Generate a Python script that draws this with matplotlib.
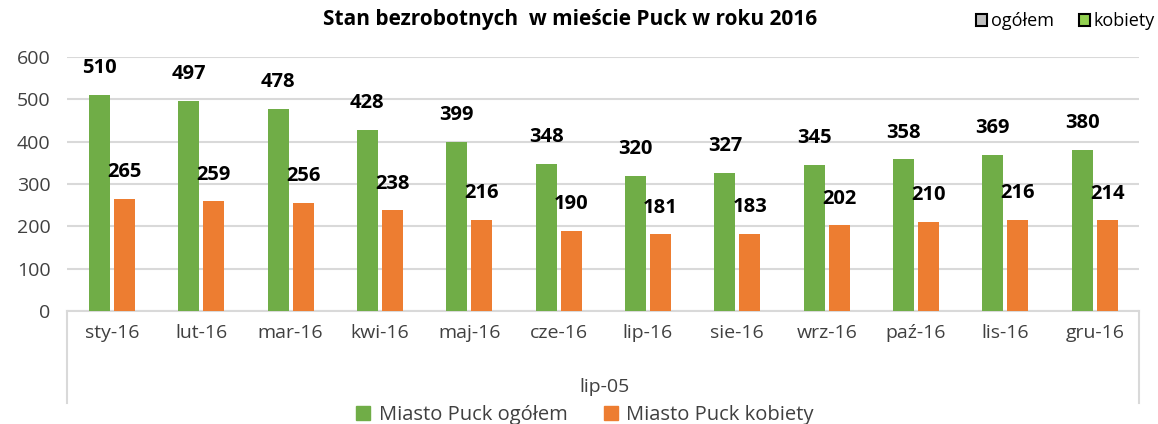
"""Stan bezrobotnych w mieście Puck w roku 2016 - grouped bar chart."""

import matplotlib

matplotlib.use("Agg")

import matplotlib.pyplot as plt  # noqa: E402
import numpy as np  # noqa: E402
from matplotlib.lines import Line2D  # noqa: E402
from matplotlib.patches import Rectangle  # noqa: E402


months = ["sty-16", "lut-16", "mar-16", "kwi-16", "maj-16", "cze-16",
          "lip-16", "sie-16", "wrz-16", "paź-16", "lis-16", "gru-16"]
total = [510, 497, 478, 428, 399, 348, 320, 327, 345, 358, 369, 380]
women = [265, 259, 256, 238, 216, 190, 181, 183, 202, 210, 216, 214]
group_label = "lip-05"
series_names = ["Miasto Puck ogółem", "Miasto Puck kobiety"]

GREEN = "#70AD47"
ORANGE = "#ED7D31"
GRID = "#D9D9D9"
TEXT = "#404040"

plt.rcParams["font.family"] = ["Open Sans", "DejaVu Sans"]


def main() -> None:
    fig = plt.figure(figsize=(11.58, 4.24), dpi=100)
    ax = fig.add_axes([0.058, 0.2665, 0.926, 0.599])

    x = np.arange(len(months))
    width = 0.235
    offset = 0.14
    ax.bar(x - offset, total, width, color=GREEN, zorder=3)
    ax.bar(x + offset, women, width, color=ORANGE, zorder=3)

    for xi, v in zip(x, total):
        ax.annotate(str(v), (xi - offset, v), xytext=(0, 12), textcoords="offset points",
                    ha="center", va="bottom", fontsize=14.5, fontweight="bold", color="black")
    for xi, v in zip(x, women):
        ax.annotate(str(v), (xi + offset, v), xytext=(0, 12), textcoords="offset points",
                    ha="center", va="bottom", fontsize=14.5, fontweight="bold", color="black")

    ax.set_xlim(-0.5, len(months) - 0.5)
    ax.set_ylim(0, 600)
    ax.set_yticks(range(0, 601, 100))
    ax.tick_params(axis="y", length=0, labelsize=14, labelcolor=TEXT, pad=12)
    ax.set_xticks(x)
    ax.set_xticklabels(months)
    ax.tick_params(axis="x", length=0, labelsize=14, labelcolor=TEXT, pad=9)
    ax.yaxis.grid(True, color=GRID, linewidth=1.5, zorder=0)
    for side in ["top", "right", "left"]:
        ax.spines[side].set_visible(False)
    ax.spines["bottom"].set_color(GRID)
    ax.spines["bottom"].set_linewidth(1.5)

    # multi-level category box edges
    for fx in (0.058, 0.984):
        fig.add_artist(Line2D([fx, fx], [0.2665, 0.05], color=GRID, linewidth=1.5))

    fig.text(0.522, 0.087, group_label, ha="center", va="center", fontsize=14, color=TEXT)

    fig.text(0.492, 0.955, "Stan bezrobotnych  w mieście Puck w roku 2016",
             ha="center", va="center", fontsize=15, fontweight="bold", color="black")

    # bottom legend
    handles = [Rectangle((0, 0), 1, 1, color=GREEN), Rectangle((0, 0), 1, 1, color=ORANGE)]
    fig.legend(handles, series_names, loc="center", bbox_to_anchor=(0.505, 0.022), ncol=2,
               frameon=False, fontsize=14.5, handlelength=0.7, handleheight=0.7,
               handletextpad=0.4, columnspacing=1.8, labelcolor=TEXT)

    # top-right legend
    top_handles = [Rectangle((0, 0), 1, 1, facecolor="#BFBFBF", edgecolor="black", linewidth=1.5),
                   Rectangle((0, 0), 1, 1, facecolor="#92D050", edgecolor="black", linewidth=1.5)]
    fig.legend(top_handles, ["ogółem", "kobiety"], loc="center", bbox_to_anchor=(0.92, 0.95),
               ncol=2, frameon=False, fontsize=13, handlelength=0.6, handleheight=0.6,
               handletextpad=0.2, columnspacing=1.4, labelcolor="black")

    fig.savefig("out.png", dpi=100)
    plt.close(fig)


if __name__ == "__main__":
    main()
